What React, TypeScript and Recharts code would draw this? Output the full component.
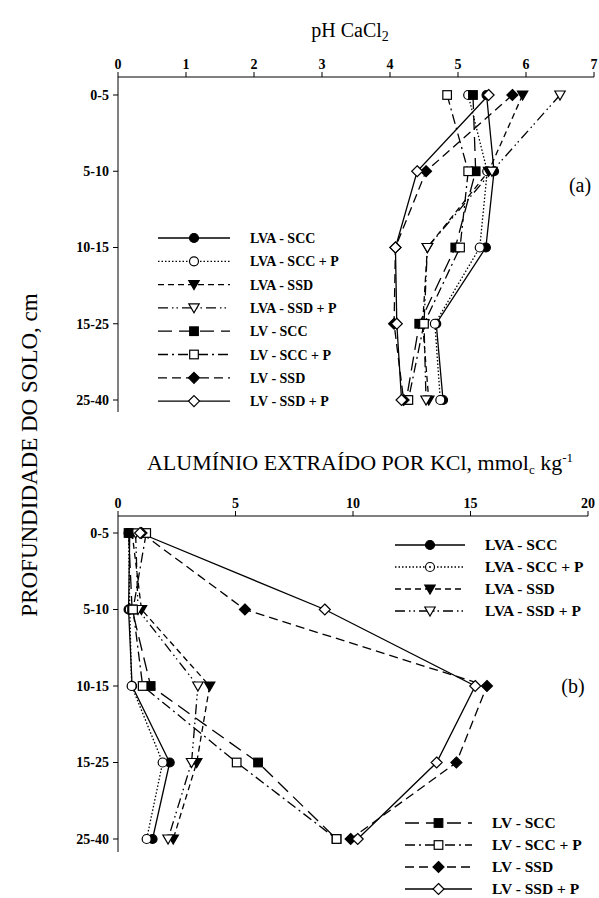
import { LineChart, Line, XAxis, YAxis } from "recharts";

const depths = ["0-5", "5-10", "10-15", "15-25", "25-40"];
const phTicks = [0, 1, 2, 3, 4, 5, 6, 7];
const alTicks = [0, 5, 10, 15, 20];

// pH CaCl2, one value per depth
const phLvaScc = [5.42, 5.53, 5.41, 4.68, 4.78];
const phLvaSccP = [5.15, 5.43, 5.32, 4.66, 4.74];
const phLvaSsd = [5.95, 5.45, 4.55, 4.48, 4.57];
const phLvaSsdP = [6.5, 5.5, 4.55, 4.5, 4.53];
const phLvScc = [5.22, 5.26, 4.96, 4.43, 4.24];
const phLvSccP = [4.84, 5.15, 5.03, 4.5, 4.27];
const phLvSsd = [5.8, 4.53, 4.08, 4.06, 4.2];
const phLvSsdP = [5.45, 4.4, 4.08, 4.1, 4.17];

// Al (KCl), mmolc/kg
const alLvaScc = [0.5, 0.45, 0.6, 2.2, 1.47];
const alLvaSccP = [0.45, 0.5, 0.58, 1.9, 1.22];
const alLvaSsd = [0.6, 1.0, 3.9, 3.35, 2.35];
const alLvaSsdP = [0.75, 0.85, 3.4, 3.13, 2.13];
const alLvScc = [0.45, 0.6, 1.39, 5.96, 9.3];
const alLvSccP = [1.2, 0.64, 1.05, 5.05, 9.3];
const alLvSsd = [1.0, 5.4, 15.7, 14.4, 9.9];
const alLvSsdP = [0.94, 8.8, 15.2, 13.56, 10.2];

type Shape = "circle" | "triangle" | "square" | "diamond";

const series: { key: string; name: string; shape: Shape; filled: boolean; dash?: string }[] = [
  { key: "lvaScc", name: "LVA - SCC", shape: "circle", filled: true },
  { key: "lvaSccP", name: "LVA - SCC + P", shape: "circle", filled: false, dash: "1.5 2" },
  { key: "lvaSsd", name: "LVA - SSD", shape: "triangle", filled: true, dash: "6 4" },
  { key: "lvaSsdP", name: "LVA - SSD + P", shape: "triangle", filled: false, dash: "10 4 1.5 3 1.5 4" },
  { key: "lvScc", name: "LV - SCC", shape: "square", filled: true, dash: "14 7" },
  { key: "lvSccP", name: "LV - SCC + P", shape: "square", filled: false, dash: "10 4 2 4" },
  { key: "lvSsd", name: "LV - SSD", shape: "diamond", filled: true, dash: "9 5" },
  { key: "lvSsdP", name: "LV - SSD + P", shape: "diamond", filled: false },
];

const phRows = depths.map((depth, i) => ({
  depth,
  lvaScc: phLvaScc[i],
  lvaSccP: phLvaSccP[i],
  lvaSsd: phLvaSsd[i],
  lvaSsdP: phLvaSsdP[i],
  lvScc: phLvScc[i],
  lvSccP: phLvSccP[i],
  lvSsd: phLvSsd[i],
  lvSsdP: phLvSsdP[i],
}));

const alRows = depths.map((depth, i) => ({
  depth,
  lvaScc: alLvaScc[i],
  lvaSccP: alLvaSccP[i],
  lvaSsd: alLvaSsd[i],
  lvaSsdP: alLvaSsdP[i],
  lvScc: alLvScc[i],
  lvSccP: alLvSccP[i],
  lvSsd: alLvSsd[i],
  lvSsdP: alLvSsdP[i],
}));

const serif = "'Liberation Serif', 'DejaVu Serif', serif";

function Marker({ cx, cy, shape, filled, dotted }: { cx: number; cy: number; shape: Shape; filled: boolean; dotted?: boolean }) {
  const st = { fill: filled ? "#000" : "#fff", stroke: "#000", strokeWidth: 1.2, strokeDasharray: "none" };
  if (shape === "circle")
    return (
      <g>
        <circle cx={cx} cy={cy} r={4.5} {...st} />
        {dotted && <circle cx={cx} cy={cy} r={1} fill="#000" />}
      </g>
    );
  if (shape === "square") return <rect x={cx - 4.3} y={cy - 4.3} width={8.6} height={8.6} {...st} />;
  if (shape === "diamond")
    return <polygon points={`${cx},${cy - 5.5} ${cx + 5.5},${cy} ${cx},${cy + 5.5} ${cx - 5.5},${cy}`} {...st} />;
  return <polygon points={`${cx - 5.2},${cy - 4} ${cx + 5.2},${cy - 4} ${cx},${cy + 5}`} {...st} />;
}

const tickStyle = { fill: "#000", fontSize: 14, fontWeight: "bold", fontFamily: serif };

function Panel({ data, ticks, max, top, height, margin, pad }: any) {
  return (
    <div style={{ position: "absolute", left: 0, top }}>
      <LineChart width={599} height={height} data={data} layout="vertical" margin={margin}>
        <XAxis
          type="number"
          orientation="top"
          domain={[0, max]}
          ticks={ticks}
          height={30}
          tickSize={5}
          tickMargin={3}
          tick={tickStyle}
          axisLine={{ stroke: "#000" }}
          tickLine={{ stroke: "#000" }}
        />
        <YAxis
          type="category"
          dataKey="depth"
          scale="point"
          padding={pad}
          width={60}
          tickSize={5}
          tickMargin={4}
          tick={tickStyle}
          axisLine={{ stroke: "#000" }}
          tickLine={{ stroke: "#000" }}
        />
        {series.map((s) => (
          <Line
            key={s.key}
            dataKey={s.key}
            stroke="#000"
            strokeWidth={1.3}
            strokeDasharray={s.dash}
            isAnimationActive={false}
            dot={(p: any) => <Marker key={`${s.key}-${p.index}`} cx={p.cx} cy={p.cy} shape={s.shape} filled={s.filled} />}
          />
        ))}
      </LineChart>
    </div>
  );
}

function LegendBox({ items, left, top, lineW, textX, rowH, fontSize, dotted }: any) {
  return (
    <svg
      style={{ position: "absolute", left, top: top - 12 }}
      width={220}
      height={items.length * rowH + 24}
    >
      {items.map((s: any, i: number) => {
        const y = 12 + i * rowH;
        return (
          <g key={s.key}>
            <line x1={0} x2={lineW} y1={y} y2={y} stroke="#000" strokeWidth={1.3} strokeDasharray={s.dash} />
            <Marker cx={lineW / 2} cy={y} shape={s.shape} filled={s.filled} dotted={dotted && s.key === "lvaSccP"} />
            <text x={textX} y={y + 5} fontSize={fontSize} fontWeight="bold" fontFamily={serif}>
              {s.name}
            </text>
          </g>
        );
      })}
    </svg>
  );
}

export default function App() {
  return (
    <div style={{ position: "absolute", left: 0, top: 0, width: 599, height: 898, background: "#fff" }}>
      <Panel
        data={phRows}
        ticks={phTicks}
        max={7}
        top={0}
        height={430}
        margin={{ top: 47, right: 5, left: 58, bottom: 18 }}
        pad={{ top: 18, bottom: 12 }}
      />
      <Panel
        data={alRows}
        ticks={alTicks}
        max={20}
        top={440}
        height={458}
        margin={{ top: 46, right: 11, left: 58, bottom: 46 }}
        pad={{ top: 17, bottom: 13 }}
      />
      <LegendBox items={series} left={158} top={238} lineW={72} textX={92} rowH={23.3} fontSize={14} />
      <LegendBox items={series.slice(0, 4)} left={395} top={545} lineW={70} textX={90} rowH={22} fontSize={15.5} dotted />
      <LegendBox items={series.slice(4)} left={405} top={823} lineW={67} textX={87} rowH={22} fontSize={15.5} />
      <svg style={{ position: "absolute", left: 0, top: 0, pointerEvents: "none" }} width={599} height={898}>
        <text x={350} y={37} textAnchor="middle" fontSize={20} fontFamily={serif}>
          pH CaCl<tspan fontSize={14} dy={4}>2</tspan>
        </text>
        <text x={360} y={470} textAnchor="middle" fontSize={22} fontFamily={serif}>
          ALUMÍNIO EXTRAÍDO POR KCl, mmol<tspan fontSize={13} dy={4}>c</tspan>
          <tspan dy={-4}> kg</tspan>
          <tspan fontSize={13} dy={-8}>-1</tspan>
        </text>
        <text x={580} y={192} textAnchor="middle" fontSize={20} fontFamily={serif}>(a)</text>
        <text x={573} y={693} textAnchor="middle" fontSize={20} fontFamily={serif}>(b)</text>
        <text transform="translate(37,455) rotate(-90)" textAnchor="middle" fontSize={23} fontFamily={serif}>
          PROFUNDIDADE DO SOLO, cm
        </text>
      </svg>
    </div>
  );
}
